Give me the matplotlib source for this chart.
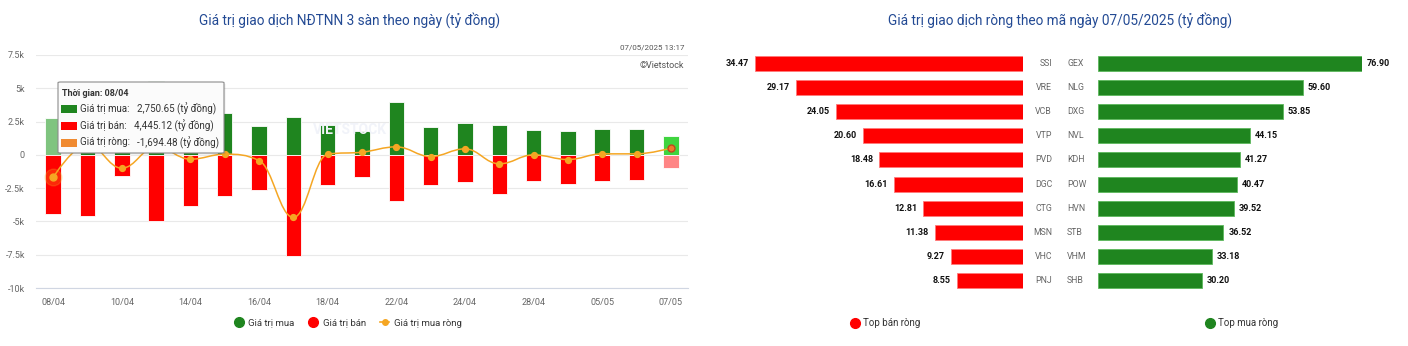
import matplotlib

matplotlib.use("Agg")

import matplotlib.pyplot as plt
import numpy as np
from matplotlib.lines import Line2D
from matplotlib.patches import FancyBboxPatch, PathPatch, Rectangle
from matplotlib.path import Path
from matplotlib.ticker import FuncFormatter

plt.rcParams["font.family"] = ["Roboto", "DejaVu Sans"]

# Foreign investor trading, 3 exchanges, per session (billion VND)
dates = ["08/04", "09/04", "10/04", "11/04", "14/04", "15/04", "16/04", "17/04",
         "18/04", "21/04", "22/04", "23/04", "24/04", "25/04", "28/04", "29/04",
         "05/05", "06/05", "07/05"]
buy_value = [2750.65, 5350, 625, 5550, 3500, 3150, 2200, 2875, 2275, 1800, 4000,
             2075, 2400, 2250, 1875, 1800, 1925, 1925, 1425]
sell_value = [4445.12, 4575, 1625, 4950, 3825, 3125, 2625, 7625, 2300, 1700, 3450,
              2250, 2050, 2925, 1950, 2200, 1950, 1875, 1000]
net_value = [-1694.48, 775, -1000, 600, -325, 50, -425, -4700, 50, 200, 600,
             -125, 450, -675, 0, -350, 75, 75, 500]

# Top net sellers / buyers on 07/05/2025 (billion VND)
sell_tickers = ["SSI", "VRE", "VCB", "VTP", "PVD", "DGC", "CTG", "MSN", "VHC", "PNJ"]
sell_net = [34.47, 29.17, 24.05, 20.60, 18.48, 16.61, 12.81, 11.38, 9.27, 8.55]
buy_tickers = ["GEX", "NLG", "DXG", "NVL", "KDH", "POW", "HVN", "STB", "VHM", "SHB"]
buy_net = [76.90, 59.60, 53.85, 44.15, 41.27, 40.47, 39.52, 36.52, 33.18, 30.20]

GREEN = "#1f851f"
RED = "#ff0000"
ORANGE = "#f5a623"
TITLE = "#234a94"
GRAY = "#666666"

W, H = 1408, 346
fig = plt.figure(figsize=(W / 100, H / 100), dpi=100)


def px_axes(x0, y0, x1, y1):
    """Axes placed by pixel box (top-left origin)."""
    return fig.add_axes([x0 / W, 1 - y1 / H, (x1 - x0) / W, (y1 - y0) / H])


def fig_px(x, y):
    return x / W, 1 - y / H


def spline_path(xs, ys, smoothing=1.5):
    """Highcharts-style spline through the points as cubic Bezier segments."""
    n = len(xs)
    verts = [(xs[0], ys[0])]
    codes = [Path.MOVETO]
    left = [None] * n
    right = [None] * n
    denom = smoothing + 1
    for i in range(1, n - 1):
        lx = (smoothing * xs[i] + xs[i - 1]) / denom
        ly = (smoothing * ys[i] + ys[i - 1]) / denom
        rx = (smoothing * xs[i] + xs[i + 1]) / denom
        ry = (smoothing * ys[i] + ys[i + 1]) / denom
        if rx != lx:
            corr = (ry - ly) * (rx - xs[i]) / (rx - lx) + ys[i] - ry
            ly += corr
            ry += corr
        if ly > ys[i - 1] and ly > ys[i]:
            ly = max(ys[i - 1], ys[i])
            ry = 2 * ys[i] - ly
        elif ly < ys[i - 1] and ly < ys[i]:
            ly = min(ys[i - 1], ys[i])
            ry = 2 * ys[i] - ly
        if ry > ys[i + 1] and ry > ys[i]:
            ry = max(ys[i + 1], ys[i])
            ly = 2 * ys[i] - ry
        elif ry < ys[i + 1] and ry < ys[i]:
            ry = min(ys[i + 1], ys[i])
            ly = 2 * ys[i] - ry
        left[i] = (lx, ly)
        right[i] = (rx, ry)
    for i in range(1, n):
        c1 = right[i - 1] if right[i - 1] else (xs[i - 1], ys[i - 1])
        c2 = left[i] if left[i] else (xs[i], ys[i])
        verts += [c1, c2, (xs[i], ys[i])]
        codes += [Path.CURVE4] * 3
    return Path(verts, codes)


# ---------------- left: daily foreign trading ----------------
ax = px_axes(36, 55, 688, 288)
x = np.arange(len(dates))
buy_colors = [GREEN] * len(dates)
sell_colors = [RED] * len(dates)
buy_colors[0] = "#7fc47f"
buy_colors[-1] = "#3fd43f"
sell_colors[-1] = "#ff8585"

ax.bar(x, buy_value, width=0.45, color=buy_colors, edgecolor="white",
       linewidth=0.6, zorder=2)
ax.bar(x, [-v for v in sell_value], width=0.45, color=sell_colors,
       edgecolor="white", linewidth=0.6, zorder=2)

ax.add_patch(PathPatch(spline_path(list(x), net_value), facecolor="none",
                       edgecolor=ORANGE, linewidth=1.1, zorder=3))
ax.plot(x[1:-1], net_value[1:-1], "o", color=ORANGE, markersize=4.2, zorder=4)
ax.plot(x[0], net_value[0], "o", color=ORANGE, markersize=12, alpha=0.25, zorder=4)
ax.plot(x[0], net_value[0], "o", color=ORANGE, markersize=5, zorder=4)
ax.plot(x[-1], net_value[-1], "o", color="#f07a2a", markeredgecolor="#c2461a",
        markersize=5, markeredgewidth=1, zorder=4)

ax.set_xlim(-0.5, len(dates) - 0.5)
ax.set_ylim(-10000, 7500)
ax.set_yticks(np.arange(-10000, 7501, 2500))
ax.yaxis.set_major_formatter(FuncFormatter(
    lambda v, _: "0" if v == 0 else f"{v / 1000:g}k"))
ax.set_xticks(x[::2])
ax.set_xticklabels(dates[::2])
ax.tick_params(axis="both", length=0, labelsize=6.5, labelcolor=GRAY)
ax.tick_params(axis="x", pad=7)
ax.tick_params(axis="y", pad=8)
ax.grid(axis="y", color="#e9e9e9", linewidth=0.8, zorder=0)
for side in ("top", "left", "right"):
    ax.spines[side].set_visible(False)
ax.spines["bottom"].set_color("#d0d6e2")
ax.spines["bottom"].set_linewidth(0.8)

# faint watermark
fig.text(*fig_px(350, 130), "VIETSTOCK", fontsize=10, fontweight="bold",
         color="#f1f3f9", ha="center", va="center", zorder=1)

fig.text(*fig_px(350, 20), "Giá trị giao dịch NĐTNN 3 sàn theo ngày (tỷ đồng)",
         fontsize=9.8, color=TITLE, ha="center", va="center")
fig.text(*fig_px(684, 47), "07/05/2025 13:17", fontsize=5.8, color="#555555",
         ha="right", va="center")
fig.text(*fig_px(684, 66), "©Vietstock", fontsize=6.5, color="#555555",
         ha="right", va="center")

# tooltip for the first session
tx0, ty0, tx1, ty1 = 58, 82, 224, 153
fig.add_artist(FancyBboxPatch(fig_px(tx0 + 1.5, ty1 + 1.5), (tx1 - tx0) / W,
                              (ty1 - ty0) / H,
                              boxstyle="round,pad=0,rounding_size=0.002",
                              transform=fig.transFigure, facecolor="#000000",
                              alpha=0.08, edgecolor="none", zorder=9))
fig.add_artist(FancyBboxPatch(fig_px(tx0, ty1), (tx1 - tx0) / W, (ty1 - ty0) / H,
                              boxstyle="round,pad=0,rounding_size=0.002",
                              transform=fig.transFigure, facecolor="#fbfbfb",
                              edgecolor="#8c8c8c", linewidth=0.8, zorder=10))
fig.text(*fig_px(62, 93), f"Thời gian: {dates[0]}", fontsize=6.5, fontweight="bold",
         color="#333333", va="center", zorder=11)
tip_rows = [("Giá trị mua:", buy_value[0], GREEN, 137),
            ("Giá trị bán:", sell_value[0], RED, 134),
            ("Giá trị ròng:", net_value[0], "#f08a30", 137)]
for k, (label, val, col, vx) in enumerate(tip_rows):
    yy = 108.5 + k * 17
    fig.add_artist(Rectangle(fig_px(61, yy + 4), 15.5 / W, 8 / H, facecolor=col,
                             transform=fig.transFigure, zorder=11))
    fig.text(*fig_px(80, yy), label, fontsize=7, color="#333333", va="center",
             zorder=11)
    fig.text(*fig_px(vx, yy), f"{val:,.2f} (tỷ đồng)", fontsize=7,
             color="#333333", va="center", zorder=11)

legend_items = [
    Line2D([], [], marker="o", linestyle="none", color=GREEN, markersize=7,
           label="Giá trị mua"),
    Line2D([], [], marker="o", linestyle="none", color=RED, markersize=7,
           label="Giá trị bán"),
    Line2D([], [], marker="o", color=ORANGE, markersize=4, linewidth=1.2,
           label="Giá trị mua ròng"),
]
fig.legend(handles=legend_items, loc="center", bbox_to_anchor=fig_px(348, 323),
           ncol=3, frameon=False, fontsize=6.8, handlelength=1.0,
           handletextpad=0.5, columnspacing=1.5, labelcolor="#333333")

# ---------------- right: top net sellers / buyers ----------------
fig.text(*fig_px(1060, 20), "Giá trị giao dịch ròng theo mã ngày 07/05/2025 (tỷ đồng)",
         fontsize=9.8, color=TITLE, ha="center", va="center")

rows = np.arange(len(sell_tickers))
row_top, row_step = 63.3, 24.16
y_top = row_top - row_step / 2
y_bot = row_top + row_step * (len(rows) - 0.5)

axs = px_axes(755, y_top, 1023, y_bot)
axs.barh(rows, sell_net, height=0.62, color=RED, edgecolor="#ff7a7a", linewidth=0.6)
axs.set_xlim(max(sell_net), 0)
axs.set_ylim(len(rows) - 0.5, -0.5)
for i, (t, v) in enumerate(zip(sell_tickers, sell_net)):
    axs.annotate(f"{v:.2f}", xy=(v, i), xytext=(-4.3, 0), textcoords="offset points",
                 ha="right", va="center", fontsize=6.5, fontweight="bold",
                 color="#111111")
    axs.annotate(t, xy=(1, i), xycoords=("axes fraction", "data"), xytext=(20.9, 0),
                 textcoords="offset points", ha="right", va="center",
                 fontsize=6.3, color=GRAY)
axs.axis("off")

axb = px_axes(1098, y_top, 1362, y_bot)
axb.barh(rows, buy_net, height=0.62, color=GREEN, edgecolor="#5cb85c", linewidth=0.6)
axb.set_xlim(0, max(buy_net))
axb.set_ylim(len(rows) - 0.5, -0.5)
for i, (t, v) in enumerate(zip(buy_tickers, buy_net)):
    axb.annotate(f"{v:.2f}", xy=(v, i), xytext=(3.6, 0), textcoords="offset points",
                 ha="left", va="center", fontsize=6.5, fontweight="bold",
                 color="#111111")
    axb.annotate(t, xy=(0, i), xycoords=("axes fraction", "data"), xytext=(-22.3, 0),
                 textcoords="offset points", ha="left", va="center",
                 fontsize=6.3, color=GRAY)
axb.axis("off")

fig.legend(handles=[Line2D([], [], marker="o", linestyle="none", color=RED,
                           markersize=7, label="Top bán ròng")],
           loc="center left", bbox_to_anchor=fig_px(842, 323), frameon=False,
           fontsize=7, handlelength=0.8, handletextpad=0.5, labelcolor="#333333")
fig.legend(handles=[Line2D([], [], marker="o", linestyle="none", color=GREEN,
                           markersize=7, label="Top mua ròng")],
           loc="center left", bbox_to_anchor=fig_px(1197, 323), frameon=False,
           fontsize=7, handlelength=0.8, handletextpad=0.5, labelcolor="#333333")

fig.savefig("out.png", dpi=100)
